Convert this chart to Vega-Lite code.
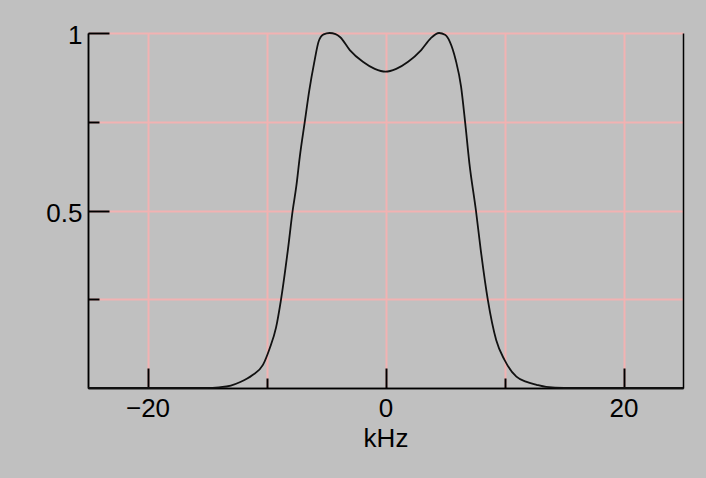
{
  "$schema": "https://vega.github.io/schema/vega-lite/v6.json",
  "autosize": "none",
  "width": 595,
  "height": 355,
  "padding": {"left": 88, "top": 33, "right": 23, "bottom": 90},
  "background": "#c0c0c0",
  "config": {
    "view": {"stroke": null},
    "axis": {
      "labelFont": "Liberation Sans",
      "labelFontSize": 26,
      "labelColor": "#000",
      "titleFont": "Liberation Sans",
      "titleFontSize": 26,
      "titleFontWeight": "normal",
      "titleColor": "#000",
      "domainColor": "#000",
      "domainWidth": 1.5,
      "tickColor": "#000",
      "tickWidth": 2,
      "gridColor": "#f2b2b2",
      "gridOpacity": 1,
      "gridWidth": 2,
      "labelFlush": false,
      "labelOverlap": false,
      "zindex": 1
    }
  },
  "data": {
    "values": [
      {"f": -25, "v": 0},
      {"f": -20, "v": 0},
      {"f": -15, "v": 0},
      {"f": -14, "v": 0.002},
      {"f": -13, "v": 0.007},
      {"f": -12.2, "v": 0.017},
      {"f": -11.2, "v": 0.036},
      {"f": -10.3, "v": 0.065},
      {"f": -9.75, "v": 0.11},
      {"f": -9.2, "v": 0.17},
      {"f": -8.8, "v": 0.245},
      {"f": -8.2, "v": 0.39},
      {"f": -7.8, "v": 0.5},
      {"f": -7.5, "v": 0.567},
      {"f": -7.2, "v": 0.652},
      {"f": -6.8, "v": 0.746},
      {"f": -6.4, "v": 0.839},
      {"f": -6.0, "v": 0.915},
      {"f": -5.6, "v": 0.978},
      {"f": -5.2, "v": 0.996},
      {"f": -4.7, "v": 1.0},
      {"f": -4.2, "v": 0.997},
      {"f": -3.8, "v": 0.988},
      {"f": -3.0, "v": 0.952},
      {"f": -1.9, "v": 0.919},
      {"f": -0.9, "v": 0.899},
      {"f": 0, "v": 0.891},
      {"f": 0.9, "v": 0.899},
      {"f": 1.9, "v": 0.919},
      {"f": 3.0, "v": 0.952},
      {"f": 3.8, "v": 0.985},
      {"f": 4.5, "v": 1.0},
      {"f": 5.0, "v": 0.995},
      {"f": 5.4, "v": 0.976},
      {"f": 5.9, "v": 0.924},
      {"f": 6.35, "v": 0.849},
      {"f": 6.7, "v": 0.746},
      {"f": 7.05, "v": 0.633},
      {"f": 7.6, "v": 0.5},
      {"f": 8.0, "v": 0.39},
      {"f": 8.6, "v": 0.248},
      {"f": 9.3, "v": 0.135},
      {"f": 10.0, "v": 0.079},
      {"f": 11.0, "v": 0.032},
      {"f": 11.8, "v": 0.018},
      {"f": 12.7, "v": 0.009},
      {"f": 13.5, "v": 0.003},
      {"f": 15, "v": 0},
      {"f": 20, "v": 0},
      {"f": 25, "v": 0}
    ]
  },
  "resolve": {"scale": {"x": "shared", "y": "shared"}, "axis": {"x": "independent", "y": "independent"}},
  "layer": [
    {
      "mark": {"type": "line", "opacity": 0},
      "encoding": {
        "x": {"field": "f", "type": "quantitative", "scale": {"domain": [-25, 25], "nice": false, "zero": false},
              "axis": {"orient": "bottom", "values": [-10, 10], "tickSize": -10, "labels": false, "title": null, "grid": true}},
        "y": {"field": "v", "type": "quantitative", "scale": {"domain": [0, 1], "nice": false},
              "axis": {"values": [0.25, 0.75], "tickSize": -11, "labels": false, "title": null, "grid": true, "orient": "left"}}
      }
    },
    {
      "mark": {"type": "line", "opacity": 0},
      "encoding": {
        "x": {"field": "f", "type": "quantitative", "axis": null},
        "y": {"field": "v", "type": "quantitative",
              "axis": {"orient": "right", "ticks": false, "labels": false, "grid": false, "title": null}}
      }
    },
    {
      "mark": {"type": "line", "color": "#111", "strokeWidth": 1.8, "interpolate": "monotone"},
      "encoding": {
        "x": {"field": "f", "type": "quantitative",
              "axis": {"orient": "bottom", "values": [-20, 0, 20], "tickSize": -20, "labelPadding": 27, "title": "kHz", "titlePadding": 4, "grid": true}},
        "y": {"field": "v", "type": "quantitative",
              "axis": {"values": [0.5, 1], "format": "~g", "tickSize": -21, "labelPadding": 27, "labelOffset": 2.5, "title": null, "grid": true, "orient": "left"}}
      }
    }
  ]
}
